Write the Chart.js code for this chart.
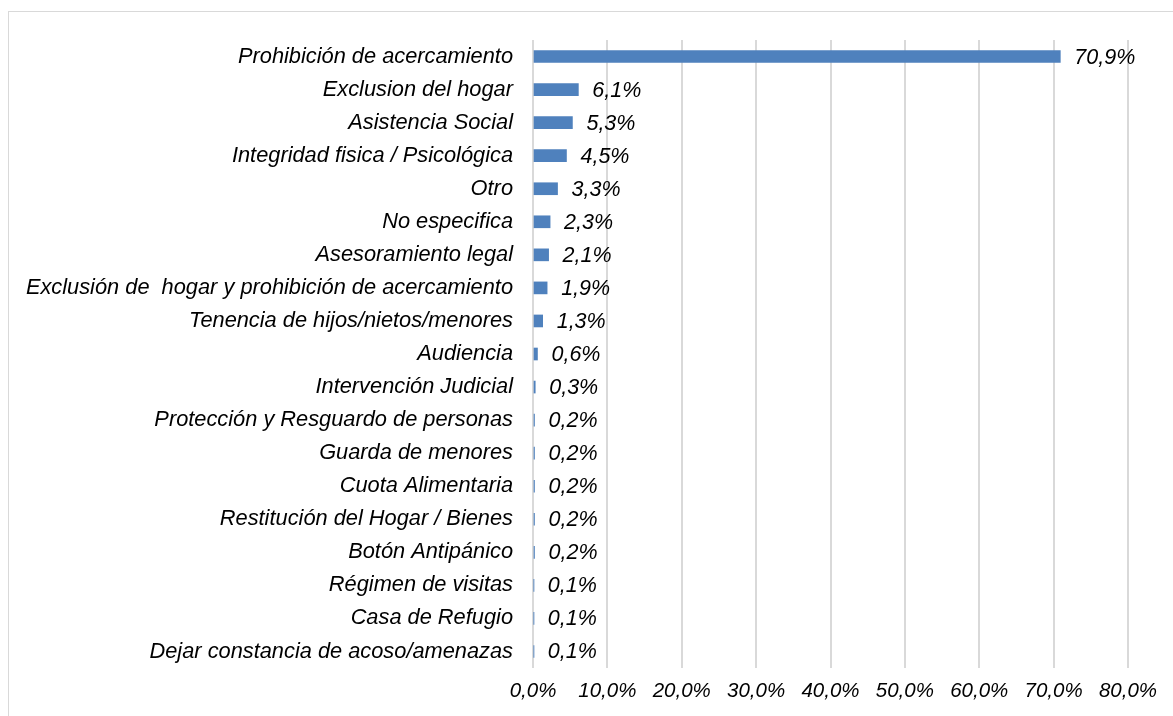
<!DOCTYPE html>
<html>
<head>
<meta charset="utf-8">
<script src="https://cdn.jsdelivr.net/npm/chart.js@4"></script>
<style>
  html, body { margin: 0; padding: 0; background: #fff; overflow: hidden; }
  #wrap { position: relative; width: 1173px; height: 716px; }
  #frame { position: absolute; left: 8px; top: 11px; width: 1200px; height: 760px; border: 1px solid #d9d9d9; box-sizing: border-box; }
  canvas { position: absolute; left: 0; top: 0; }
</style>
</head>
<body>
<div id="wrap">
  <div id="frame"></div>
  <canvas id="chart" width="1173" height="716"></canvas>
</div>
<script>
const categories = [
  'Prohibición de acercamiento',
  'Exclusion del hogar',
  'Asistencia Social',
  'Integridad fisica / Psicológica',
  'Otro',
  'No especifica',
  'Asesoramiento legal',
  'Exclusión de  hogar y prohibición de acercamiento',
  'Tenencia de hijos/nietos/menores',
  'Audiencia',
  'Intervención Judicial',
  'Protección y Resguardo de personas',
  'Guarda de menores',
  'Cuota Alimentaria',
  'Restitución del Hogar / Bienes',
  'Botón Antipánico',
  'Régimen de visitas',
  'Casa de Refugio',
  'Dejar constancia de acoso/amenazas'
];
const percentages = [70.9, 6.1, 5.3, 4.5, 3.3, 2.3, 2.1, 1.9, 1.3, 0.6, 0.3, 0.2, 0.2, 0.2, 0.2, 0.2, 0.1, 0.1, 0.1];
const xTicks = [0, 10, 20, 30, 40, 50, 60, 70, 80];

const fmt = v => v.toFixed(1).replace('.', ',') + '%';
const family = '"Liberation Sans", Arial, sans-serif';

// draws the value next to each bar
const valueLabels = {
  id: 'valueLabels',
  afterDatasetsDraw(chart) {
    const ctx = chart.ctx;
    const meta = chart.getDatasetMeta(0);
    ctx.save();
    ctx.font = 'italic 21.5px ' + family;
    ctx.fillStyle = '#000';
    ctx.textAlign = 'left';
    ctx.textBaseline = 'middle';
    meta.data.forEach((bar, i) => {
      ctx.fillText(fmt(percentages[i]), bar.x + 14, bar.y + 1);
    });
    ctx.restore();
  }
};

new Chart(document.getElementById('chart'), {
  type: 'bar',
  data: {
    labels: categories,
    datasets: [{
      data: percentages,
      backgroundColor: '#4f81bd',
      barThickness: 12
    }]
  },
  options: {
    indexAxis: 'y',
    responsive: false,
    animation: false,
    layout: { padding: { left: 0, right: 45, top: 40, bottom: 0 } },
    plugins: {
      legend: { display: false },
      tooltip: { enabled: false }
    },
    scales: {
      x: {
        min: 0,
        max: 80,
        afterBuildTicks: scale => { scale.ticks = xTicks.map(v => ({ value: v })); },
        afterFit: scale => { scale.height = 48; },
        grid: { color: '#d9d9d9', lineWidth: 2, drawTicks: false },
        border: { display: false },
        ticks: {
          padding: 11,
          color: '#000',
          font: { family: family, size: 20.5, style: 'italic' },
          maxRotation: 0,
          callback: v => fmt(v)
        }
      },
      y: {
        afterFit: scale => { scale.width = 533; },
        grid: { display: false, drawTicks: false },
        border: { display: false },
        ticks: {
          padding: 20,
          color: '#000',
          font: { family: family, size: 21.8, style: 'italic' },
          autoSkip: false
        }
      }
    }
  },
  plugins: [valueLabels]
});
</script>
</body>
</html>
